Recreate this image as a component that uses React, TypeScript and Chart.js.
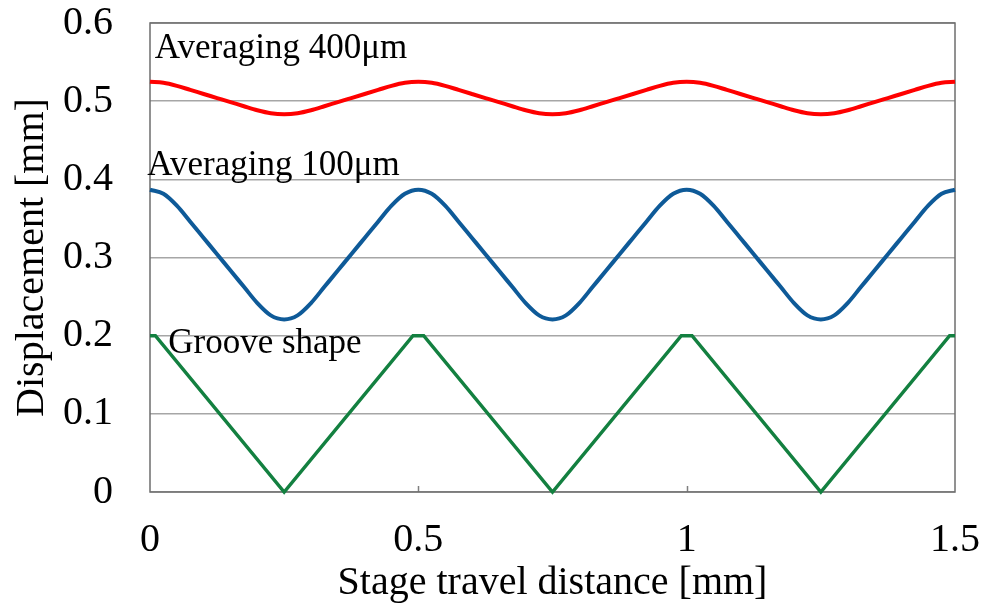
import React, { useEffect, useRef } from "react";
import { Chart, registerables } from "chart.js";

Chart.register(...registerables);

// Stage travel distance [mm]
const xValues = [
  0, 0.025, 0.05, 0.075, 0.1, 0.125, 0.15, 0.175, 0.2, 0.225, 0.25,
  0.275, 0.3, 0.325, 0.35, 0.375, 0.4, 0.425, 0.45, 0.475, 0.5,
  0.525, 0.55, 0.575, 0.6, 0.625, 0.65, 0.675, 0.7, 0.725, 0.75,
  0.775, 0.8, 0.825, 0.85, 0.875, 0.9, 0.925, 0.95, 0.975, 1.0,
  1.025, 1.05, 1.075, 1.1, 1.125, 1.15, 1.175, 1.2, 1.225, 1.25,
  1.275, 1.3, 1.325, 1.35, 1.375, 1.4, 1.425, 1.45, 1.475, 1.5,
];

// Averaging 400µm [mm]
const avg400 = [
  0.5248, 0.5235, 0.5196, 0.5144, 0.5092, 0.5040, 0.4988, 0.4935, 0.4884, 0.4846, 0.4833,
  0.4846, 0.4884, 0.4935, 0.4988, 0.5040, 0.5092, 0.5144, 0.5196, 0.5235, 0.5248,
  0.5235, 0.5196, 0.5144, 0.5092, 0.5040, 0.4988, 0.4935, 0.4884, 0.4846, 0.4833,
  0.4846, 0.4884, 0.4935, 0.4988, 0.5040, 0.5092, 0.5144, 0.5196, 0.5235, 0.5248,
  0.5235, 0.5196, 0.5144, 0.5092, 0.5040, 0.4988, 0.4935, 0.4884, 0.4846, 0.4833,
  0.4846, 0.4884, 0.4935, 0.4988, 0.5040, 0.5092, 0.5144, 0.5196, 0.5235, 0.5248,
];

// Averaging 100µm [mm]
const avg100 = [
  0.3867, 0.3815, 0.3663, 0.3458, 0.3250, 0.3042, 0.2833, 0.2625, 0.2417, 0.2260, 0.2208,
  0.2260, 0.2417, 0.2625, 0.2833, 0.3042, 0.3250, 0.3458, 0.3663, 0.3815, 0.3867,
  0.3815, 0.3663, 0.3458, 0.3250, 0.3042, 0.2833, 0.2625, 0.2417, 0.2260, 0.2208,
  0.2260, 0.2417, 0.2625, 0.2833, 0.3042, 0.3250, 0.3458, 0.3663, 0.3815, 0.3867,
  0.3815, 0.3663, 0.3458, 0.3250, 0.3042, 0.2833, 0.2625, 0.2417, 0.2260, 0.2208,
  0.2260, 0.2417, 0.2625, 0.2833, 0.3042, 0.3250, 0.3458, 0.3663, 0.3815, 0.3867,
];

// Groove shape (corner points)
const grooveX = [0, 0.01, 0.25, 0.49, 0.51, 0.75, 0.99, 1.01, 1.25, 1.49, 1.5];
const grooveY = [0.2, 0.2, 0, 0.2, 0.2, 0, 0.2, 0.2, 0, 0.2, 0.2];

const seriesLabels = ["Averaging 400\u03bcm", "Averaging 100\u03bcm", "Groove shape"];
// label anchor (data coordinates) for each series
const labelX = [0.009, -0.005, 0.034];
const labelY = [0.5556, 0.406, 0.1775];

const xTickValues = [0.5, 1];

const FONT = '"Times New Roman", "Liberation Serif", serif';

export default function App() {
  const ref = useRef<HTMLCanvasElement | null>(null);

  useEffect(() => {
    document.body.style.margin = "0";
    const canvas = ref.current;
    if (!canvas) return;

    const decorations = {
      id: "decorations",
      beforeDatasetsDraw(chart: any) {
        const { ctx, chartArea } = chart;
        const xs = chart.scales.x;
        ctx.save();
        ctx.strokeStyle = "#7f7f7f";
        ctx.lineWidth = 1.5;
        xTickValues.forEach((v) => {
          const px = Math.round(xs.getPixelForValue(v)) + 0.5;
          ctx.beginPath();
          ctx.moveTo(px, chartArea.bottom);
          ctx.lineTo(px, chartArea.bottom - 6);
          ctx.stroke();
        });
        ctx.strokeStyle = "#6e6e6e";
        ctx.lineWidth = 1.5;
        ctx.strokeRect(
          chartArea.left,
          chartArea.top,
          chartArea.right - chartArea.left,
          chartArea.bottom - chartArea.top
        );
        ctx.restore();
      },
      afterDraw(chart: any) {
        const { ctx } = chart;
        const xs = chart.scales.x;
        const ys = chart.scales.y;
        ctx.save();
        ctx.fillStyle = "#000000";
        ctx.font = `35px ${FONT}`;
        ctx.textAlign = "left";
        ctx.textBaseline = "alphabetic";
        seriesLabels.forEach((t, i) => {
          ctx.fillText(t, xs.getPixelForValue(labelX[i]), ys.getPixelForValue(labelY[i]));
        });
        ctx.restore();
      },
    };

    const chart = new Chart(canvas, {
      type: "line",
      data: {
        datasets: [
          {
            label: seriesLabels[0],
            data: xValues.map((x, i) => ({ x, y: avg400[i] })),
            borderColor: "#ff0000",
            borderWidth: 4,
            pointRadius: 0,
            cubicInterpolationMode: "monotone",
            clip: false,
          },
          {
            label: seriesLabels[1],
            data: xValues.map((x, i) => ({ x, y: avg100[i] })),
            borderColor: "#0e5a98",
            borderWidth: 4,
            pointRadius: 0,
            cubicInterpolationMode: "monotone",
            clip: false,
          },
          {
            label: seriesLabels[2],
            data: grooveX.map((x, i) => ({ x, y: grooveY[i] })),
            borderColor: "#138040",
            borderWidth: 3.5,
            pointRadius: 0,
            tension: 0,
            clip: false,
          },
        ],
      },
      options: {
        animation: false,
        responsive: false,
        maintainAspectRatio: false,
        layout: { padding: { left: 0, top: 23, right: 30, bottom: 0 } },
        plugins: {
          legend: { display: false },
          tooltip: { enabled: false },
        },
        scales: {
          x: {
            type: "linear",
            min: 0,
            max: 1.5,
            afterFit: (s: any) => {
              s.height = 115;
              s.paddingLeft = 0;
              s.paddingRight = 0;
            },
            ticks: {
              stepSize: 0.5,
              color: "#000000",
              font: { family: FONT, size: 40 },
              padding: 24,
              maxRotation: 0,
              callback: (v: any) => String(Number(v)),
            },
            grid: { display: false, drawTicks: false },
            border: { display: false },
            title: {
              display: true,
              text: "Stage travel distance [mm]",
              color: "#000000",
              font: { family: FONT, size: 40 },
              padding: { top: 0, bottom: 0 },
            },
          },
          y: {
            type: "linear",
            min: 0,
            max: 0.6,
            afterFit: (s: any) => {
              s.width = 150;
              s.paddingTop = 0;
              s.paddingBottom = 0;
            },
            ticks: {
              stepSize: 0.1,
              color: "#000000",
              font: { family: FONT, size: 40 },
              padding: 37,
              callback: (v: any) => String(Math.round(Number(v) * 10) / 10),
            },
            grid: {
              color: "#a6a6a6",
              lineWidth: 1.5,
              drawTicks: false,
            },
            border: { display: false },
            title: {
              display: true,
              text: "Displacement [mm]",
              color: "#000000",
              font: { family: FONT, size: 40 },
              padding: { top: 8, bottom: 0 },
            },
          },
        },
      },
      plugins: [decorations],
    } as any);

    return () => chart.destroy();
  }, []);

  return <canvas ref={ref} width={985} height={607} style={{ display: "block" }} />;
}
